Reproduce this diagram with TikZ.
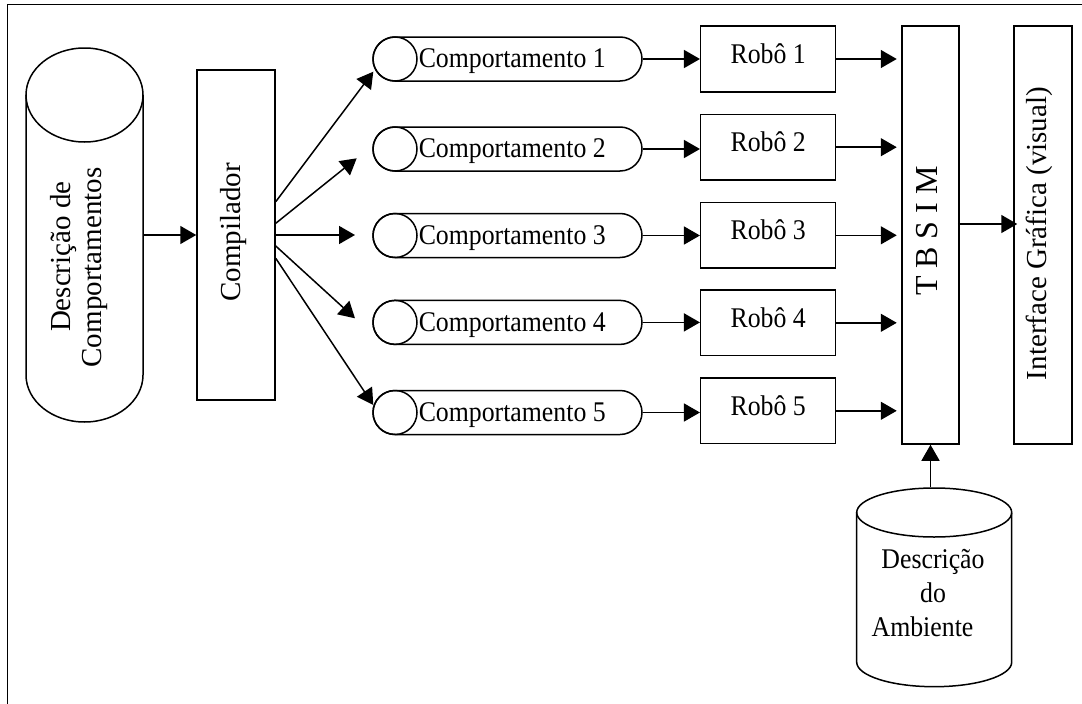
\documentclass[tikz,border=0pt]{standalone}
\usepackage{fontspec}
\setmainfont{Liberation Serif}
\newfontfamily\narrowserif[FakeStretch=0.905]{Liberation Serif}
\usetikzlibrary{arrows.meta,calc,shapes.misc}

\begin{document}
\begin{tikzpicture}[x=1pt,y=1pt,
  line width=1.5pt,
  >={Triangle[length=16pt,width=18pt]},
  box/.style={draw, rectangle, inner sep=0pt},
  hidden/.style={rectangle, inner sep=0pt},
  hlabel/.style={font=\narrowserif\fontsize{28.5}{34}\selectfont, inner sep=0pt},
  vlabel/.style={font=\fontsize{29}{31.7}\selectfont, inner sep=0pt, rotate=90, anchor=base},
  pill/.style={draw, rounded rectangle, minimum width=269pt, minimum height=44pt, inner sep=0pt},
  dot/.style={draw, circle, minimum size=44pt, inner sep=0pt},
]
\useasboundingbox (0,0) rectangle (1082,-704);

% outer frame
\draw (7.5,-4.5) rectangle (1100,-720);

% behaviour description store (vertical cylinder)
\node[hidden, minimum width=117pt, minimum height=374pt] (lc) at (84.5,-235) {};
\draw (84.5,-95) ellipse [x radius=58.5, y radius=47];
\draw (26,-95) -- (26,-375) arc[start angle=180, end angle=360, x radius=58.5, y radius=47] -- (143,-95);
\node[vlabel] (lct) at (70,-256.7)
  {\begin{tabular}[t]{@{}c@{}}Descrição de\\Comportamentos\hbox to 21.6pt{}\end{tabular}};

% compiler
\node[box, minimum width=78pt, minimum height=330pt] (cmp) at (236,-235) {};
\node[vlabel] (cmpt) at (240,-232.5) {Compilador};
\draw[->] (lc.east) -- (cmp.west);

% simulator and graphical interface
\node[box, minimum width=57pt, minimum height=418pt] (tb) at (930.5,-235) {};
\node[vlabel, font=\fontsize{32}{32}\selectfont] (tbt) at (937.3,-231) {T B S I M};
\node[box, minimum width=58pt, minimum height=418pt] (gui) at (1043,-235) {};
\node[vlabel] (guit) at (1046.7,-233.5) {Interface Gráfica (visual)};
\draw[->] ($(tb.east)+(-2,11)$) -- ($(gui.west)+(4,11)$);

% behaviours and robots
\foreach \i/\cy/\ry in {1/59/59, 2/149/147.2, 3/235.5/235.3, 4/322.4/322.8, 5/412.5/410.8} {
  \node[pill] (c\i) at (507.5,-\cy) {};
  \node[dot] (cc\i) at (395,-\cy) {};
  \node[hlabel, anchor=base west] (ct\i) at (418,-\cy-8.7) {Comportamento \i};
  \node[box, minimum width=135pt, minimum height=65.7pt] (r\i) at (768.2,-\ry) {};
  \node[hlabel, anchor=base] (rt\i) at (768.2,-\ry-4.3) {Robô \i};
  \draw[->] (c\i.east) -- (c\i.east -| r\i.west);
  \draw[->, shorten >=4.5pt] (r\i.east) -- (r\i.east -| tb.west);
}

% compiler fans out to the behaviours
\foreach \i/\dy/\tx/\ty in {1/33.3/373.3/-71.7, 2/11.7/356.7/-158.3, 3/0/355/-235, 4/-11/355/-318.3, 5/-23.3/373.3/-405} {
  \coordinate (tip\i) at (\tx,\ty);
  \draw[->] ($(cmp.east)+(0,\dy)$) -- (tip\i);
}

% environment description store
\node[hidden, minimum width=155pt, minimum height=198.7pt] (bc) at (934.2,-587.35) {};
\draw (934.2,-512.5) ellipse [x radius=77.5, y radius=24.5];
\draw (856.7,-512.5) -- (856.7,-662.2) arc[start angle=180, end angle=360, x radius=77.5, y radius=24.5] -- (1011.7,-512.5);
\node[hlabel, anchor=base] (bct) at (933,-568.3)
  {\begin{tabular}[t]{@{}c@{}}Descrição\\do\\Ambiente\hbox to 21pt{}\end{tabular}};
\draw[->] (bc.north -| tb.south) -- (tb.south);

\end{tikzpicture}
\end{document}
